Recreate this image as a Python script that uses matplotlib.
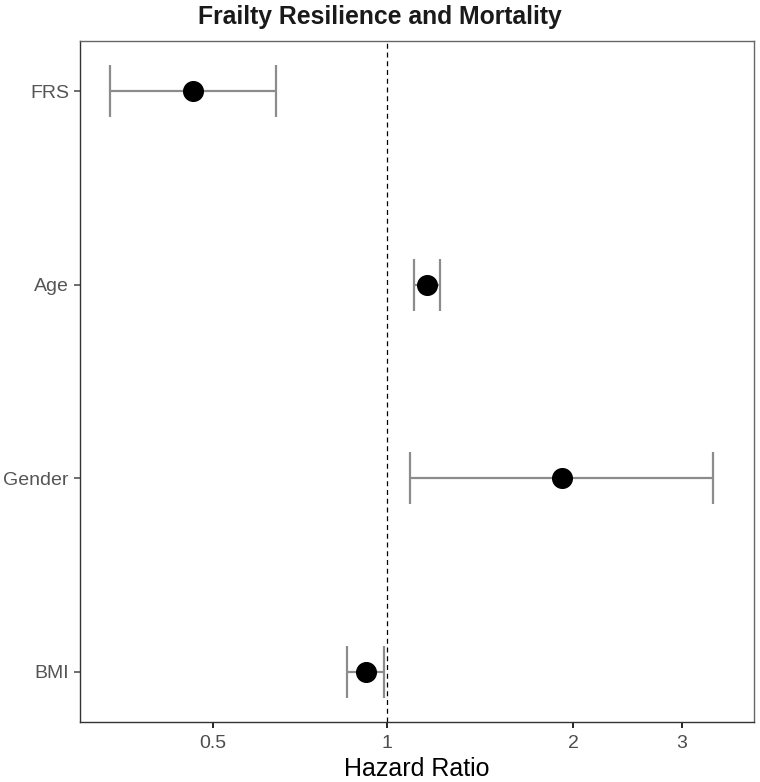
import numpy as np
import matplotlib
matplotlib.use("Agg")
import matplotlib.pyplot as plt

plt.rcParams['font.family'] = ['Liberation Sans', 'DejaVu Sans']

# hazard ratios with 95% CI, top to bottom
labels = ['FRS', 'Age', 'Gender', 'BMI']
hr = [0.485, 1.161, 1.92, 0.925]
ci_low = [0.356, 1.106, 1.09, 0.862]
ci_high = [0.661, 1.218, 3.37, 0.989]

tick_vals = [0.522, 1, 2, 3]
tick_labels = ['0.5', '1', '2', '3']

fig = plt.figure(figsize=(7.6, 7.82), dpi=100)
ax = fig.add_axes([80 / 760, 1 - 722 / 782, 674 / 760, 681 / 782])

ypos = np.arange(len(labels))[::-1] + 1
hr = np.array(hr)
err = [hr - np.array(ci_low), np.array(ci_high) - hr]

ax.axvline(1, color='black', lw=0.9, ls=(0, (4, 3)), zorder=1)
ax.errorbar(hr, ypos, xerr=err, fmt='none', ecolor='#8c8c8c', elinewidth=1.6,
            capsize=19, capthick=1.6, zorder=2)
ax.scatter(hr, ypos, s=200, color='black', zorder=3)

ax.set_xscale('log')
ax.set_xlim(0.3185, 3.927)
ax.set_ylim(0.74, 4.26)
ax.set_xticks(tick_vals)
ax.set_xticklabels(tick_labels)
ax.minorticks_off()
ax.set_yticks(ypos)
ax.set_yticklabels(labels)

ax.tick_params(axis='x', colors='black', labelcolor='#4d4d4d', labelsize=14,
               length=4, width=1.2, pad=5)
ax.tick_params(axis='y', colors='#555555', labelcolor='#555555', labelsize=14,
               length=4, width=1.2, pad=4)

for side in ['top', 'right']:
    ax.spines[side].set_color('#666666')
    ax.spines[side].set_linewidth(1.0)
for side in ['left', 'bottom']:
    ax.spines[side].set_color('#333333')
    ax.spines[side].set_linewidth(1.0)

ax.set_xlabel('Hazard Ratio', fontsize=18, color='black', labelpad=4)
fig.suptitle('Frailty Resilience and Mortality', fontsize=17.8, fontweight='bold',
             color='#1a1a1a', x=0.5, y=0.993, va='top')

fig.savefig('out.png', dpi=100)
